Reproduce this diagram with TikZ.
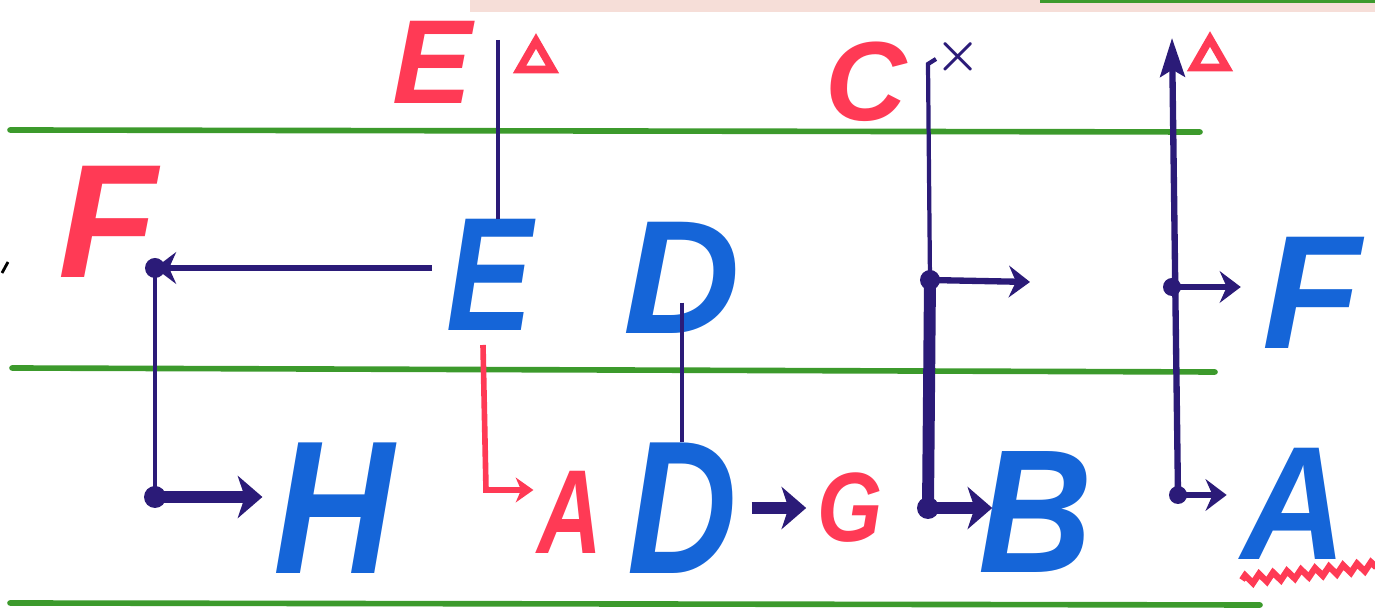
\documentclass[tikz,border=0pt]{standalone}
\usepackage{fontspec}
\setmainfont{Liberation Sans}
\usetikzlibrary{arrows.meta,decorations.pathmorphing,shapes.geometric}

\definecolor{ink}{HTML}{2B1B78}
\definecolor{letterblue}{HTML}{1565D8}
\definecolor{marker}{HTML}{FF3A55}
\definecolor{rule}{HTML}{3C9A2C}
\definecolor{strip}{HTML}{F6DED8}

\newcommand{\slim}[2][0.8]{\scalebox{#1}[1]{#2}}

\tikzset{
  big/.style={text=letterblue,inner sep=0pt,font=\fontsize{46}{46}\selectfont\bfseries\itshape},
  tag/.style={text=marker,inner sep=0pt,font=\fontsize{34}{34}\selectfont\bfseries\itshape},
  delta/.style={draw=marker,line width=2.2pt,regular polygon,regular polygon sides=3,
    minimum size=0.38cm,inner sep=0pt},
  sign/.style={inner sep=0pt,font=\fontsize{14}{14}\selectfont\boldmath},
  wire/.style={draw=ink,line width=1.2pt},
  mid/.style={draw=ink,line width=1.8pt,>={Stealth[length=6pt,width=9pt,inset=2pt]}},
  fat/.style={draw=ink,line width=3.4pt,>={Stealth[length=7pt,width=12pt,inset=2pt]}},
  redwire/.style={draw=marker,line width=1.6pt,>={Stealth[length=5pt,width=7pt,inset=1.5pt]}},
  rulerow/.style={draw=rule,line width=1.6pt,line cap=round}
}

\begin{document}
\begin{tikzpicture}[x=0.01cm,y=-0.01cm]
\useasboundingbox (0,0) rectangle (1375,610);

% strip of the next sheet and the green rules
\fill[strip] (470,0) rectangle (1375,12);
\draw[rule,line width=1pt] (1040,1) -- (1375,1);
\draw[rulerow] (10,130) -- (1200,132);
\draw[rulerow] (12,368) -- (1215,372);
\draw[rulerow] (10,603) -- (1260,605);
\draw[line width=0.8pt] (2,273) -- (8,262);

% letters
\node[tag] (redE) at (432,62) {E};
\node[delta] (triE) at (536,60) {};
\node[tag,font=\fontsize{46}{46}\selectfont\bfseries\itshape] (redF) at (108,222) {F};
\node[big] (E) at (490,275) {\slim{E}};
\node[big,font=\fontsize{54}{54}\selectfont\bfseries\itshape] (H) at (334,508) {\slim[0.88]{H}};
\node[tag] (redA) at (570,512) {\slim[0.75]{A}};
\node[big] (D1) at (682,278) {D};
\node[big,font=\fontsize{54}{54}\selectfont\bfseries\itshape] (D2) at (682,508) {\slim{D}};
\node[tag,font=\fontsize{28}{28}\selectfont\bfseries\itshape] (G) at (850,508) {\slim[0.85]{G}};
\node[tag,font=\fontsize{32}{32}\selectfont\bfseries\itshape] (redC) at (866,82) {C};
\node[sign,text=ink] (cross) at (958,57) {$\times$};
\node[big,font=\fontsize{50}{50}\selectfont\bfseries\itshape] (B) at (1036,512) {\slim[0.9]{B}};
\node[delta] (triA) at (1210,58) {};
\node[big] (F) at (1312,293) {F};
\node[big] (A) at (1294,504) {\slim[0.9]{A}};

% E column
\coordinate (topE) at (498,40);
\coordinate (jF) at (155,268);
\coordinate (jH) at (155,497);
\draw[wire] (topE) -- (topE |- E.north);
\draw[mid,->] ([xshift=-4pt]E.west |- jF) -- (jF);
\draw[wire] (jF) -- (jH);
\fill[ink] (jF) circle (10);
\fill[ink] (jH) circle (11);
\draw[fat,->] (jH) -- ([xshift=-3pt]H.west |- jH);

\coordinate (rTop) at (483,345);
\coordinate (rBend) at (486,490);
\draw[redwire,->] (rTop) -- (rBend) -- ([xshift=-1pt]redA.west |- rBend);

% D column
\draw[wire] ([yshift=9pt]D1.south) -- (D2.north);
\draw[fat,->] ([xshift=4pt]D2.east) -- ([xshift=-3pt]G.west);

% C column
\coordinate (cTop) at (928,64);
\coordinate (jC1) at (930,280);
\coordinate (jC2) at (928,508);
\coordinate (cEnd) at (1030,282);
\draw[wire] (936,59) -- (cTop) -- (jC1);
\draw[fat] (jC1) -- (jC2);
\fill[ink] (jC1) circle (10);
\fill[ink] (jC2) circle (11);
\draw[mid,->] (jC1) -- (cEnd);
\draw[fat,->] (jC2) -- ([xshift=4pt]B.west |- jC2);

% A column
\coordinate (aTop) at (1172,38);
\coordinate (jA1) at (1172,287);
\coordinate (jA2) at (1178,495);
\draw[mid,->,>={Stealth[length=11pt,width=7pt,inset=2pt]}] (jA2) -- (aTop);
\fill[ink] (jA1) circle (9);
\fill[ink] (jA2) circle (9);
\draw[mid,->] (jA1) -- ([xshift=-6pt]F.west |- jA1);
\draw[mid,->] (jA2) -- ([xshift=-4pt]A.west |- jA2);
\draw[marker,line width=1.8pt,decorate,decoration={zigzag,segment length=4pt,amplitude=1.2pt}]
  (1242,580) -- (1375,566);
\end{tikzpicture}
\end{document}
